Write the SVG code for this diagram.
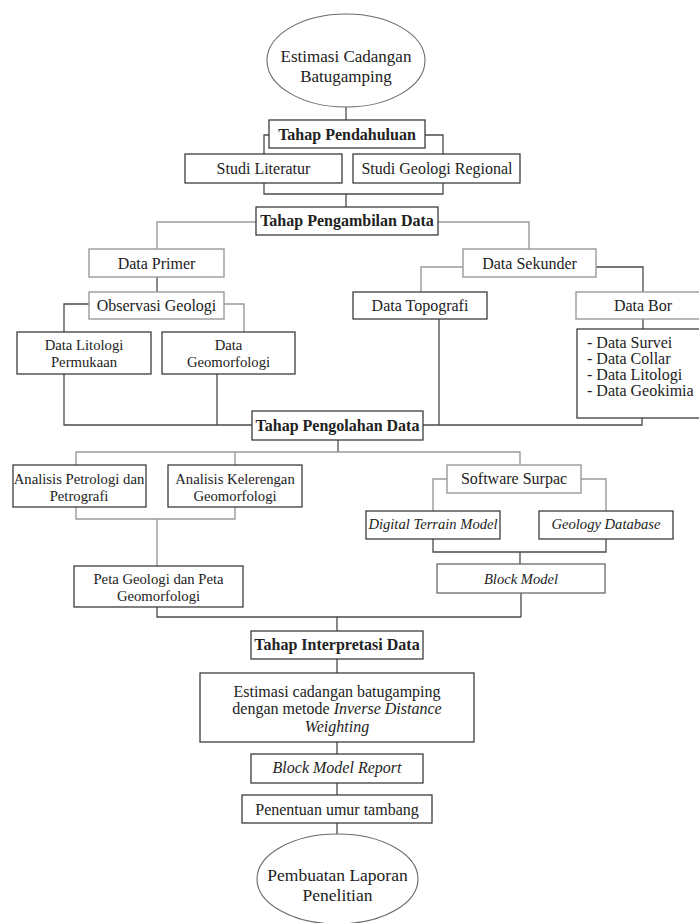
<svg xmlns="http://www.w3.org/2000/svg" width="699" height="923" viewBox="0 0 699 923">
<style>
text{font-family:"Liberation Serif","Times New Roman",serif;fill:#222;font-size:16px;text-anchor:middle}
.bold{font-weight:bold}
.it{font-style:italic}
.sm{font-size:14.7px}
.ism{font-size:14.6px;font-style:italic}
.lst{text-anchor:start}
.el{font-size:17px}
.b{fill:#fff;stroke:#3c3c3c;stroke-width:1.3}
.bl{fill:#fff;stroke:#9a9a9a;stroke-width:1.4}
.e{fill:#fff;stroke:#6a6a6a;stroke-width:1.1}
.c{fill:none;stroke:#4a4a4a;stroke-width:1.3}
.cl{fill:none;stroke:#9a9a9a;stroke-width:1.4}
</style>
<rect width="699" height="923" fill="#fff"/>
<g id="connectors">
<path class="c" d="M346,107V120"/>
<path class="c" d="M269,135H264V154M425,135H443V154"/>
<path class="c" d="M264,183V194H443V183M346,194V207"/>
<path class="cl" d="M256,222H157V249M438,222H529V249"/>
<path class="c" d="M157,277V292"/>
<path class="c" d="M89,304H64V332"/>
<path class="cl" d="M224,304H244V332"/>
<path class="c" d="M64,374V425H252M217,374V425"/>
<path class="cl" d="M463,267H421V292"/>
<path class="c" d="M596,267H643V292M643,318V329"/>
<path class="c" d="M439,318V425M423,425H642V418"/>
<path class="c" d="M338,440V452"/>
<path class="cl" d="M76,465V452H520V465M235,452V465"/>
<path class="cl" d="M76,507V519H235V507M157,519V566"/>
<path class="cl" d="M447,479H433V511M581,479H606V511"/>
<path class="c" d="M433,539V552H606V539M520,552V564"/>
<path class="c" d="M521,593V617M157,607V617H521M337,617V631"/>
<path class="c" d="M337,659V673M337,742V754M337,783V795M337,823V836"/>
</g>
<g id="n-start"><ellipse class="e" cx="346" cy="60.5" rx="79" ry="46.5"/><text class="el" x="346" y="62">Estimasi Cadangan</text><text class="el" x="346" y="81.5">Batugamping</text></g>
<g id="n-pendahuluan"><rect class="b" x="269" y="120" width="156" height="28"/><text class="bold" x="347" y="139.5">Tahap Pendahuluan</text></g>
<g id="n-literatur"><rect class="b" x="185" y="154" width="157" height="29"/><text x="263.5" y="174">Studi Literatur</text></g>
<g id="n-regional"><rect class="b" x="353" y="154" width="167" height="29"/><text x="437" y="173.5">Studi Geologi Regional</text></g>
<g id="n-pengambilan"><rect class="b" x="256" y="207" width="182" height="28"/><text class="bold" x="347" y="226">Tahap Pengambilan Data</text></g>
<g id="n-primer"><rect class="bl" x="89" y="249" width="135" height="28"/><text x="156.5" y="269">Data Primer</text></g>
<g id="n-observasi"><rect class="bl" x="89" y="292" width="135" height="27"/><text x="156.5" y="310.5">Observasi Geologi</text></g>
<g id="n-litologi"><rect class="b" x="17" y="332" width="134" height="42"/><text class="sm" x="84" y="350">Data Litologi</text><text class="sm" x="84" y="367">Permukaan</text></g>
<g id="n-geomorfologi"><rect class="b" x="162" y="332" width="133" height="42"/><text class="sm" x="228.5" y="350">Data</text><text class="sm" x="228.5" y="367">Geomorfologi</text></g>
<g id="n-sekunder"><rect class="bl" x="463" y="249" width="133" height="28"/><text x="529.5" y="269">Data Sekunder</text></g>
<g id="n-topografi"><rect class="b" x="353" y="292" width="134" height="27"/><text x="420" y="310.5">Data Topografi</text></g>
<g id="n-bor"><rect class="bl" x="576" y="292" width="134" height="27"/><text x="643" y="310.5">Data Bor</text></g>
<g id="n-borlist"><rect class="b" x="577" y="329" width="133" height="89"/><text class="lst" x="587" y="348">- Data Survei</text><text class="lst" x="587" y="364">- Data Collar</text><text class="lst" x="587" y="380">- Data Litologi</text><text class="lst" x="587" y="396">- Data Geokimia</text></g>
<g id="n-pengolahan"><rect class="b" x="252" y="411" width="171" height="29"/><text class="bold" x="337.5" y="431">Tahap Pengolahan Data</text></g>
<g id="n-petrologi"><rect class="b" x="13" y="465" width="133" height="42"/><text class="sm" x="79" y="484">Analisis Petrologi dan</text><text class="sm" x="79" y="500.5">Petrografi</text></g>
<g id="n-kelerengan"><rect class="b" x="168" y="465" width="134" height="42"/><text class="sm" x="235" y="484">Analisis Kelerengan</text><text class="sm" x="235" y="500.5">Geomorfologi</text></g>
<g id="n-peta"><rect class="b" x="74" y="566" width="169" height="41"/><text class="sm" x="158.5" y="584">Peta Geologi dan Peta</text><text class="sm" x="158.5" y="600.5">Geomorfologi</text></g>
<g id="n-surpac"><rect class="bl" x="447" y="465" width="134" height="28"/><text x="514" y="484">Software Surpac</text></g>
<g id="n-dtm"><rect class="b" x="366" y="511" width="134" height="28"/><text class="ism" x="433" y="529">Digital Terrain Model</text></g>
<g id="n-geodb"><rect class="b" x="539" y="511" width="134" height="28"/><text class="ism" x="606" y="529">Geology Database</text></g>
<g id="n-blockmodel"><rect class="b" x="437" y="564" width="168" height="29" style="stroke:#6a6a6a"/><text class="ism" x="521" y="583.5">Block Model</text></g>
<g id="n-interpretasi"><rect class="b" x="251" y="631" width="172" height="28"/><text class="bold" x="337" y="650">Tahap Interpretasi Data</text></g>
<g id="n-estimasi"><rect class="b" x="200" y="673" width="274" height="69"/><text x="337" y="697">Estimasi cadangan batugamping</text><text x="337" y="714">dengan metode <tspan class="it">Inverse Distance</tspan></text><text class="it" x="337" y="731.5">Weighting</text></g>
<g id="n-bmreport"><rect class="b" x="251" y="754" width="172" height="29"/><text class="it" x="337" y="773">Block Model Report</text></g>
<g id="n-umur"><rect class="b" x="242" y="795" width="190" height="28"/><text x="337" y="815">Penentuan umur tambang</text></g>
<g id="n-end"><ellipse class="e" cx="337.5" cy="879" rx="80.5" ry="45"/><text x="337.5" y="881" style="font-size:17.5px">Pembuatan Laporan</text><text x="337.5" y="901" style="font-size:17.5px">Penelitian</text></g>
</svg>
